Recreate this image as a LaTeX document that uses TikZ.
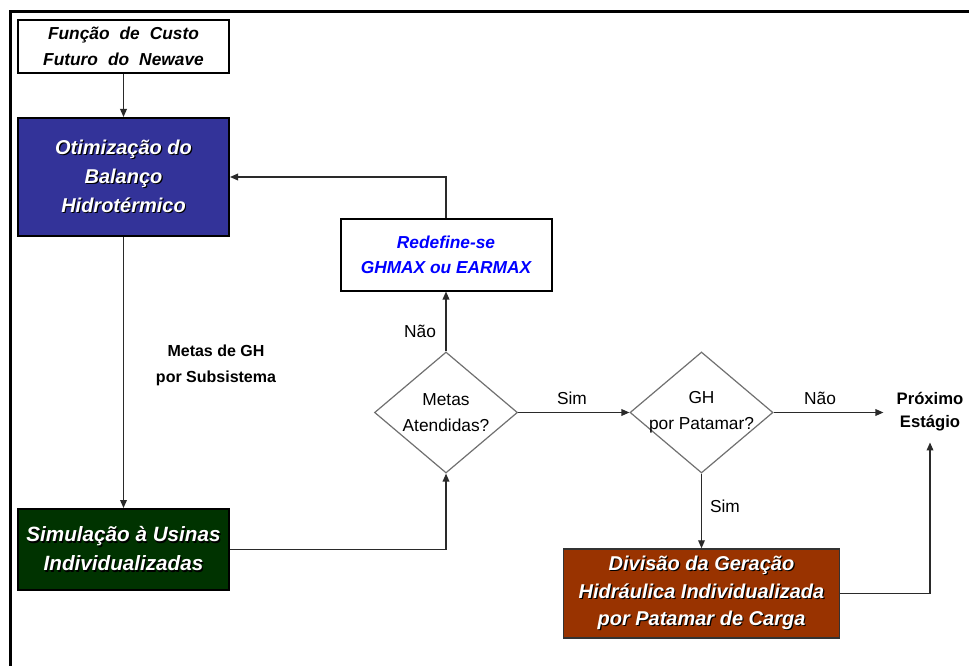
\documentclass[tikz,border=0pt]{standalone}
\usepackage{fontspec}
\setmainfont{Liberation Sans}
\usetikzlibrary{shapes.geometric,arrows.meta}
\definecolor{boxblue}{HTML}{333399}
\definecolor{boxgreen}{HTML}{003300}
\definecolor{boxbrown}{HTML}{993300}
\definecolor{linegray}{HTML}{2A2A2A}
\definecolor{diagray}{HTML}{707070}
\definecolor{redefblue}{HTML}{0000FF}
\newcommand\shtxt[1]{\leavevmode\rlap{\kern0.9pt\raisebox{-0.9pt}{\textcolor{black}{#1}}}#1}
\newcommand\widesp{\spaceskip=7.5pt plus 1pt minus 0pt\relax}
\newcommand\zb[1]{\makebox[0pt]{#1}}
\begin{document}
\begin{tikzpicture}[x=0.75pt,y=-0.75pt,
  >={Triangle[length=6pt,width=5pt]},
  pbox/.style={draw=black, line width=1.5pt, align=center, inner sep=2pt},
  whitetxt/.style={text=white},
  dia/.style={diamond, draw=diagray, line width=0.9pt, align=center, inner sep=0pt,
    minimum width=107.25pt, minimum height=90.75pt,
    font=\fontsize{13}{19.5}\selectfont},
  conn/.style={draw=linegray, line width=1pt},
  lbl/.style={inner sep=0pt, font=\fontsize{13}{15}\selectfont},
  blbl/.style={inner sep=0pt, align=center, font=\bfseries\fontsize{12}{19.5}\selectfont}]
\useasboundingbox (0,0) rectangle (969,666);
\fill[white] (0,0) rectangle (969,666);
\draw[line width=2.25pt] (10.5,700) -- (10.5,12) -- (1000,12);

\node[pbox, fill=white, minimum width=158.25pt, minimum height=39.75pt,
  font=\bfseries\itshape\fontsize{13}{19.5}\selectfont]
  (fcf) at (123.5,46.5) {\widesp Função de Custo\\\widesp Futuro do Newave};

\node[pbox, whitetxt, fill=boxblue, minimum width=158.25pt, minimum height=88.5pt,
  font=\bfseries\itshape\fontsize{15}{21.75}\selectfont]
  (opt) at (123.5,177) {\shtxt{Otimização do}\\\shtxt{Balanço}\\\shtxt{Hidrotérmico}};

\node[pbox, whitetxt, fill=boxgreen, minimum width=158.25pt, minimum height=60.75pt,
  font=\bfseries\itshape\fontsize{15.5}{21.75}\selectfont]
  (sim) at (123.5,549.5) {\shtxt{Simulação à Usinas}\\\shtxt{Individualizadas}};

\node[pbox, fill=white, text=redefblue, minimum width=158.25pt, minimum height=53.25pt,
  font=\bfseries\itshape\fontsize{13}{18.75}\selectfont]
  (redef) at (446,255) {Redefine-se\\GHMAX ou EARMAX};

\node[dia] (d1) at (446,412.5) {\zb{Metas}\\\zb{Atendidas?}};
\node[dia] (d2) at (701.5,412.5) {\zb{GH}\\\zb{por Patamar?}};

\node[pbox, whitetxt, draw=black!80, line width=1.1pt, fill=boxbrown,
  minimum width=207pt, minimum height=66.75pt,
  font=\bfseries\itshape\fontsize{15}{20.6}\selectfont]
  (div) at (701.5,593.5) {\shtxt{Divisão da Geração}\\\shtxt{Hidráulica Individualizada}\\\shtxt{por Patamar de Carga}};

\node[align=center, inner xsep=9.75pt, inner ysep=8.5pt,
  font=\bfseries\fontsize{12.5}{17.25}\selectfont]
  (prox) at (930,411.5) {Próximo\\Estágio};

\node[blbl] (metas) at (216,365) {Metas de GH\\por Subsistema};
\node[lbl] (nao1) at (420,331) {Não};
\node[lbl] (sim1) at (572,398) {Sim};
\node[lbl] (nao2) at (820,398) {Não};
\node[lbl] (sim2) at (725,506) {Sim};

\draw[conn,->] (fcf) -- (opt);
\draw[conn,->] (opt) -- (sim);
\draw[conn,->] (sim.east) -| (d1.south);
\draw[conn,->] (d1.north) -- (redef.south);
\draw[conn,->] (redef.north) |- (opt.east);
\draw[conn,->] (d1.east) -- (d2.west);
\draw[conn,->] (d2.east) -- (d2.east -| prox.west);
\draw[conn,->] (d2.south) -- (div.north);
\draw[conn,->] (div.east) -| (prox.south);
\end{tikzpicture}
\end{document}
